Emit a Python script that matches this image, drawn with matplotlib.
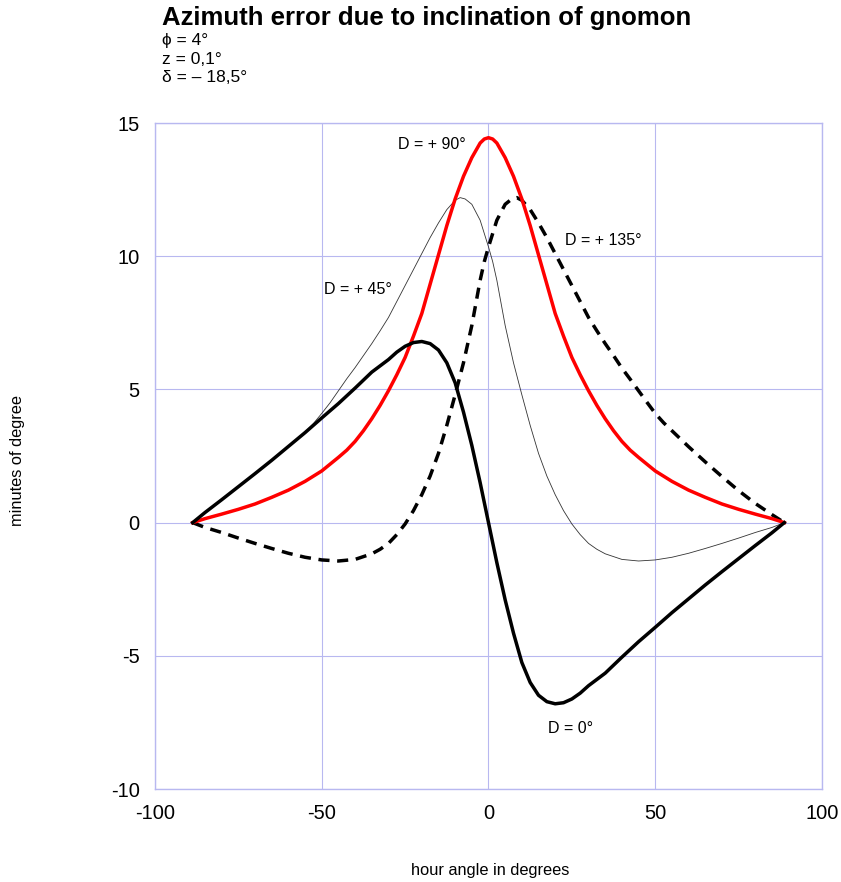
import matplotlib
matplotlib.use("Agg")
import matplotlib.pyplot as plt

plt.rcParams["font.family"] = ["Liberation Sans", "DejaVu Sans"]
plt.rcParams["axes.unicode_minus"] = False

# ---------------------------------------------------------------------------
# Data (hour angle in degrees -> minutes of degree)
# ---------------------------------------------------------------------------
ha_d0 = [-88.7, -85, -80, -75, -70, -65, -60, -55, -50, -45, -40, -35, -30,
         -27.5, -25, -22.5, -20, -17.5, -15, -12.5, -10, -7.5, -5, -2.5, 0,
         2.5, 5, 7.5, 10, 12.5, 15, 17.5, 20, 22.5, 25, 27.5, 30, 35, 40,
         45, 50, 55, 60, 65, 70, 75, 80, 85, 88.7]
err_d0 = [0, 0.38, 0.86, 1.35, 1.84, 2.34, 2.86, 3.38, 3.93, 4.47, 5.05, 5.65,
          6.12, 6.4, 6.62, 6.76, 6.8, 6.72, 6.48, 6.0, 5.25, 4.15, 2.9, 1.5, 0,
          -1.5, -2.9, -4.15, -5.25, -6.0, -6.48, -6.72, -6.8, -6.76, -6.62,
          -6.4, -6.12, -5.65, -5.05, -4.47, -3.93, -3.38, -2.86, -2.34, -1.84,
          -1.35, -0.86, -0.38, 0]

ha_d45 = [-88.7, -85, -80, -75, -70, -65, -60, -55, -52.5, -50, -47.5, -45,
          -42.5, -40, -37.5, -35, -32.5, -30, -27.5, -25, -22.5, -20, -17.5,
          -15, -12.5, -10, -8.5, -7, -5, -2.5, 0, 1.25, 2.5, 5, 7.5, 10,
          12.5, 15, 17.5, 20, 22.5, 25, 27.5, 30, 32.5, 35, 40, 45, 50, 55,
          60, 65, 70, 75, 80, 85, 88.7]
err_d45 = [0, 0.38, 0.86, 1.35, 1.84, 2.34, 2.86, 3.4, 3.72, 4.1, 4.5, 4.95,
           5.4, 5.82, 6.27, 6.72, 7.2, 7.7, 8.3, 8.9, 9.5, 10.1, 10.7, 11.25,
           11.75, 12.1, 12.2, 12.15, 11.95, 11.35, 10.35, 9.8, 9.1, 7.4, 6.0,
           4.8, 3.65, 2.6, 1.75, 1.05, 0.45, -0.05, -0.45, -0.78, -1.0,
           -1.17, -1.38, -1.44, -1.4, -1.3, -1.15, -0.97, -0.78, -0.58,
           -0.37, -0.18, 0]

ha_d90 = [-88.7, -85, -80, -75, -70, -65, -60, -55, -50, -45, -42.5, -40,
          -37.5, -35, -32.5, -30, -27.5, -25, -22.5, -20, -17.5, -15, -12.5,
          -10, -7.5, -5, -2.5, -1.25, 0, 1.25, 2.5, 5, 7.5, 10, 12.5, 15,
          17.5, 20, 22.5, 25, 27.5, 30, 32.5, 35, 37.5, 40, 42.5, 45, 50,
          55, 60, 65, 70, 75, 80, 85, 88.7]
err_d90 = [0, 0.15, 0.32, 0.5, 0.7, 0.95, 1.22, 1.55, 1.94, 2.45, 2.72, 3.05,
           3.45, 3.9, 4.4, 4.95, 5.55, 6.2, 7.0, 7.85, 8.95, 10.05, 11.15,
           12.15, 13.0, 13.7, 14.25, 14.4, 14.45, 14.4, 14.25, 13.7, 13.0,
           12.15, 11.15, 10.05, 8.95, 7.85, 7.0, 6.2, 5.55, 4.95, 4.4, 3.9,
           3.45, 3.05, 2.72, 2.45, 1.94, 1.55, 1.22, 0.95, 0.7, 0.5, 0.32,
           0.15, 0]

ha_d135 = [-88.7, -85, -80, -75, -70, -65, -60, -55, -50, -45, -40, -35,
           -32.5, -30, -27.5, -25, -22.5, -20, -17.5, -15, -12.5, -10, -7.5,
           -5, -2.5, -1.25, 0, 2.5, 5, 7, 8.5, 10, 12.5, 15, 17.5, 20, 22.5,
           25, 27.5, 30, 32.5, 35, 37.5, 40, 42.5, 45, 47.5, 50, 52.5, 55,
           60, 65, 70, 75, 80, 85, 88.7]
err_d135 = [0, -0.18, -0.37, -0.58, -0.78, -0.97, -1.15, -1.3, -1.4, -1.44,
            -1.38, -1.17, -1.0, -0.78, -0.45, -0.05, 0.45, 1.05, 1.75, 2.6,
            3.65, 4.8, 6.0, 7.4, 9.1, 9.8, 10.35, 11.35, 11.95, 12.15, 12.2,
            12.1, 11.75, 11.25, 10.7, 10.1, 9.5, 8.9, 8.3, 7.7, 7.2, 6.72,
            6.27, 5.8, 5.38, 4.95, 4.52, 4.1, 3.75, 3.45, 2.85, 2.28, 1.73,
            1.2, 0.72, 0.3, 0]

x_ticks = [-100, -50, 0, 50, 100]
y_ticks = [-10, -5, 0, 5, 10, 15]

GRID = "#b8b8f0"

fig = plt.figure(figsize=(8.41, 8.82), dpi=100)
ax = fig.add_axes([0.1843, 0.1054, 0.7931, 0.7551])

ax.plot(ha_d45, err_d45, color="#333333", linewidth=0.6)
ax.plot(ha_d135, err_d135, color="black", linewidth=2.5,
        dashes=(3.2, 2.2), dash_capstyle="butt")
ax.plot(ha_d90, err_d90, color="#ff0000", linewidth=2.5,
        solid_joinstyle="round")
ax.plot(ha_d0, err_d0, color="black", linewidth=2.5,
        solid_joinstyle="round")

ax.set_xlim(-100, 100)
ax.set_ylim(-10, 15)
ax.set_xticks(x_ticks)
ax.set_yticks(y_ticks)
ax.tick_params(length=0, labelsize=14.5, pad=11)
ax.grid(True, color=GRID, linewidth=0.8)
ax.set_axisbelow(True)
for sp in ax.spines.values():
    sp.set_color(GRID)
    sp.set_linewidth(1.0)

# curve labels
ax.text(-17, 14.2, "D = + 90°", fontsize=11.5, ha="center", va="center")
ax.text(34.5, 10.6, "D = + 135°", fontsize=11.5, ha="center", va="center")
ax.text(-39, 8.75, "D = + 45°", fontsize=11.5, ha="center", va="center")
ax.text(24.7, -7.73, "D = 0°", fontsize=11.5, ha="center", va="center")

fig.text(0.5826, 1 - 870 / 882, "hour angle in degrees", fontsize=11.8,
         ha="center", va="center")
fig.text(18 / 841, 1 - 460 / 882, "minutes of degree", fontsize=11.8,
         ha="center", va="center", rotation=90)

# title block
fig.text(162 / 841, 1 - 18 / 882, "Azimuth error due to inclination of gnomon",
         fontsize=18.5, fontweight="bold", ha="left", va="center")
fig.text(162 / 841, 1 - 41 / 882, "ϕ = 4°", fontsize=12.5, ha="left", va="center")
fig.text(162 / 841, 1 - 59 / 882, "z = 0,1°", fontsize=12.5, ha="left", va="center")
fig.text(162 / 841, 1 - 77 / 882, "δ = – 18,5°", fontsize=12.5, ha="left", va="center")

fig.savefig("out.png", dpi=100)
